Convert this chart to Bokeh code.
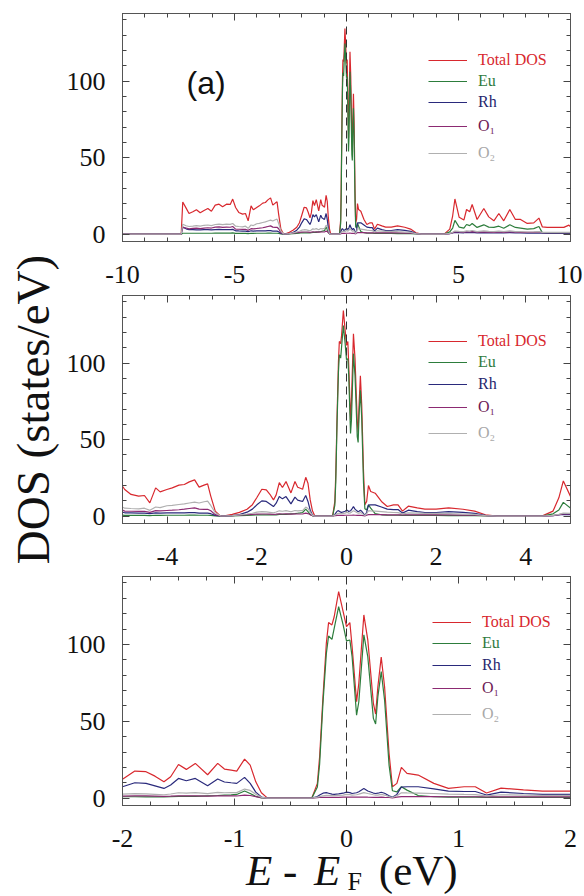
from bokeh.plotting import figure
from bokeh.models import (ColumnDataSource, Range1d, LinearAxis, FixedTicker, Span,
                          Label, Legend, LegendItem, Grid, Div)
from bokeh.layouts import column, row
from bokeh.embed import file_html
from bokeh.resources import INLINE

# ---------------- data ----------------
energy = [-10.00, -7.38, -7.31, -7.16, -7.03, -6.86, -6.70, -6.53, -6.36, -6.19, -6.03,
          -5.86, -5.69, -5.53, -5.36, -5.19, -5.08,
          -4.95, -4.81, -4.64, -4.51, -4.39, -4.26, -4.16, -4.01, -3.89, -3.74, -3.62,
          -3.51, -3.39, -3.29, -3.18, -3.10, -3.03, -2.93, -2.81,
          -2.72, -2.55, -2.39, -2.22, -2.10, -2.00, -1.89, -1.79, -1.71, -1.63, -1.57,
          -1.50, -1.43, -1.35, -1.24, -1.15, -1.09, -1.03, -0.98, -0.91, -0.86, -0.81,
          -0.76, -0.71, -0.31, -0.26, -0.24, -0.21, -0.18, -0.16, -0.13, -0.11, -0.07,
          -0.03, 0.00, 0.03, 0.05, 0.09, 0.11, 0.155, 0.19, 0.24, 0.26, 0.28, 0.31, 0.34,
          0.38, 0.41, 0.45, 0.49, 0.54, 0.64, 0.78, 0.91, 1.05, 1.15, 1.25, 1.38, 1.58,
          1.75, 2.00, 2.28, 2.60, 2.86, 3.10, 3.36, 4.36, 4.61, 4.74, 4.84, 5.03, 5.24,
          5.36, 5.50, 5.61, 5.83, 6.13, 6.35, 6.58, 6.80, 7.02, 7.29, 7.54, 7.77, 8.07,
          8.36, 8.59, 8.74, 8.96, 9.70, 9.93, 10.00]

total_dos = [0.0, 0.0, 21.0, 17.0, 13.5, 14.6, 16.0, 14.0, 15.5, 16.8, 15.0,
             19.0, 19.6, 17.9, 19.6, 19.4, 22.9,
             17.4, 14.2, 13.1, 13.5, 8.7, 18.5, 15.9, 17.4, 18.5, 20.3, 20.7,
             22.4, 23.7, 19.0, 20.3, 21.1, 13.1, 3.3, 0.0,
             0.2, 1.2, 2.5, 4.5, 7.5, 12.2, 17.6, 17.2, 14.3, 10.6, 13.9,
             21.9, 18.7, 22.6, 15.2, 22.6, 18.9, 18.2, 17.6, 25.4, 21.5, 10.6,
             3.5, 0.3, 0.0, 9.6, 26.9, 66.0, 100.8, 114.2, 112.7, 118.0, 134.4,
             121.4, 111.6, 114.2, 98.6, 62.8, 74.7, 119.2, 103.0, 61.7, 54.7, 72.5, 91.7, 72.5,
             29.1, 7.4, 9.6, 20.0, 16.1, 15.0, 9.6, 6.3, 7.4, 7.4, 3.3, 6.5, 5.4,
             4.6, 4.6, 5.4, 4.5, 3.3, 0.9, 0.0, 0.0, 3.3, 12.0, 23.0, 11.0, 9.2,
             16.1, 14.6, 19.4, 9.6, 16.8, 11.3, 8.7, 13.5, 8.7, 16.1, 9.6, 9.6, 7.0,
             7.4, 10.5, 4.8, 4.4, 4.4, 5.9, 4.8]

eu_dos = [0.0, 0.0, 0.6, 0.6, 0.6, 0.6, 0.6, 0.6, 0.6, 0.6, 0.6,
          0.7, 0.7, 0.7, 0.7, 0.7, 0.8,
          0.5, 0.5, 0.5, 0.5, 0.4, 0.6, 0.5, 0.6, 0.6, 0.6, 0.6,
          0.7, 0.7, 0.6, 0.6, 0.6, 0.5, 0.2, 0.0,
          0.0, 0.1, 0.3, 0.5, 0.6, 0.9, 0.9, 0.8, 0.8, 0.8, 0.9,
          1.1, 1.1, 1.2, 1.5, 1.7, 1.9, 2.1, 2.4, 4.6, 3.0, 1.1,
          0.2, 0.0, 0.0, 7.2, 22.0, 62.0, 94.0, 105.5, 103.3, 110.5, 124.6,
          112.7, 102.3, 102.9, 92.0, 54.0, 62.7, 106.2, 92.0, 51.9, 48.2, 66.0, 82.3, 63.8,
          21.5, 4.8, 4.1, 7.4, 5.2, 1.7, 0.9, 0.7, 0.6, 0.6, 0.5, 0.5, 0.5,
          0.5, 0.5, 0.4, 0.4, 0.3, 0.2, 0.0, 0.0, 1.5, 4.0, 9.0, 4.6, 3.9,
          6.3, 5.6, 7.0, 4.4, 6.1, 4.6, 4.4, 5.2, 3.9, 6.1, 4.4, 4.0, 3.3,
          3.6, 5.0, 1.0, 0.6, 0.6, 0.8, 0.6]

rh_dos = [0.0, 0.0, 4.6, 3.5, 3.0, 3.0, 2.8, 2.8, 2.9, 3.0, 2.8,
          3.0, 3.1, 2.9, 3.0, 3.0, 3.1,
          2.2, 2.1, 2.0, 2.0, 1.6, 2.2, 2.0, 2.1, 2.1, 2.2, 2.2,
          2.3, 2.3, 2.0, 2.0, 2.0, 1.6, 0.5, 0.1,
          0.1, 0.4, 1.0, 2.6, 4.6, 7.4, 10.0, 9.6, 8.0, 6.3, 8.5,
          12.8, 11.3, 12.8, 8.0, 12.4, 10.5, 10.0, 9.6, 13.5, 9.6, 3.9,
          0.7, 0.0, 0.0, 1.0, 2.0, 3.2, 3.6, 3.2, 2.6, 2.5, 2.8,
          3.2, 3.9, 3.6, 3.0, 3.5, 4.2, 6.2, 4.6, 3.3, 3.0, 3.2, 3.8, 3.2,
          1.6, 0.5, 2.4, 7.2, 7.4, 7.4, 6.0, 4.6, 4.3, 4.3, 2.0, 3.9, 3.0,
          2.4, 2.4, 3.0, 2.5, 1.8, 0.5, 0.0, 0.0, 0.3, 0.8, 1.2, 1.0, 0.9,
          1.1, 1.0, 1.1, 0.8, 1.0, 0.9, 0.8, 0.9, 0.8, 1.0, 0.8, 0.8, 0.7,
          0.7, 0.8, 0.6, 0.6, 0.6, 0.6, 0.6]

o1_dos = [0.0, 0.0, 4.5, 4.0, 3.5, 3.8, 4.0, 3.6, 4.0, 4.2, 4.0,
          4.6, 4.8, 4.4, 4.6, 4.5, 5.0,
          3.3, 3.2, 3.1, 3.2, 2.5, 3.6, 3.4, 3.7, 3.9, 4.2, 4.6,
          5.0, 5.4, 4.6, 4.4, 4.5, 3.5, 1.0, 0.1,
          0.1, 0.3, 0.7, 1.0, 1.2, 1.3, 1.4, 1.4, 1.3, 1.2, 1.3,
          1.5, 1.4, 1.5, 1.3, 1.5, 1.4, 1.4, 1.4, 2.0, 1.7, 1.0,
          0.3, 0.0, 0.0, 0.3, 0.4, 0.5, 0.5, 0.5, 0.5, 0.5, 0.5,
          0.6, 0.6, 0.6, 0.6, 0.6, 0.6, 0.7, 0.6, 0.5, 0.5, 0.5, 0.6, 0.5,
          0.4, 0.2, 0.6, 1.0, 1.0, 1.0, 1.0, 0.9, 0.9, 0.9, 0.8, 0.9, 0.8,
          0.8, 0.8, 0.8, 0.7, 0.6, 0.3, 0.0, 0.0, 0.4, 1.0, 1.5, 1.4, 1.3,
          1.5, 1.4, 1.6, 1.3, 1.5, 1.3, 1.2, 1.4, 1.2, 1.5, 1.3, 1.2, 1.1,
          1.1, 1.3, 1.0, 1.0, 1.0, 1.0, 1.0]

o2_dos = [0.0, 0.0, 6.5, 5.5, 5.0, 5.3, 5.6, 5.2, 5.8, 6.0, 5.6,
          6.3, 6.6, 6.2, 6.5, 6.4, 7.0,
          5.2, 5.0, 4.8, 5.2, 3.8, 6.0, 5.6, 6.8, 7.0, 7.6, 8.0,
          8.6, 9.2, 8.6, 9.4, 9.8, 7.0, 2.2, 0.1,
          0.1, 0.3, 0.8, 1.4, 1.9, 2.6, 2.9, 2.8, 2.5, 2.2, 2.7,
          3.5, 3.2, 3.6, 2.9, 3.7, 3.5, 3.6, 3.6, 5.9, 5.0, 2.6,
          0.5, 0.0, 0.0, 0.6, 1.0, 1.5, 1.8, 1.8, 1.6, 1.6, 1.8,
          2.0, 2.4, 2.3, 2.0, 2.2, 2.6, 3.6, 3.0, 2.2, 2.0, 2.0, 2.4, 2.0,
          1.0, 0.4, 1.6, 3.5, 3.4, 3.3, 3.0, 2.6, 2.4, 2.3, 1.5, 2.2, 2.0,
          1.8, 1.8, 1.6, 1.4, 1.2, 0.4, 0.0, 0.0, 0.5, 1.2, 2.0, 1.8, 1.7,
          2.2, 2.0, 2.4, 1.7, 2.2, 1.8, 1.6, 2.0, 1.6, 2.2, 1.7, 1.6, 1.4,
          1.5, 1.7, 1.2, 1.1, 1.1, 1.2, 1.1]

series_keys = ["total", "eu", "rh", "o1", "o2"]
series_names = ["Total DOS", "Eu", "Rh", "O\u2081", "O\u2082"]

panel_x_ranges = [(-10, 10), (-5, 5), (-2, 2)]
panel_major_ticks = [[-10, -5, 0, 5, 10], [-4, -2, 0, 2, 4], [-2, -1, 0, 1, 2]]
panel_minor_step = [1.0, 0.5, 0.25]
y_major_ticks = [0, 50, 100]
y_minor_ticks = [0, 10, 20, 30, 40, 50, 60, 70, 80, 90, 100, 110, 120, 130, 140]
y_limits = (-4.8, 144.2)

# ---------------- styles ----------------
line_colors = ["#d8282e", "#2d7d3c", "#2a2a7c", "#8c2a72", "#b0b0b0"]
text_colors = ["#d8282e", "#2f7a3e", "#26266e", "#6e1a56", "#a8a8a8"]
SERIF = "Liberation Serif"
FRAME_COLOR = "#555555"
INK = "#111111"

source = ColumnDataSource(dict(energy=energy, total=total_dos, eu=eu_dos,
                               rh=rh_dos, o1=o1_dos, o2=o2_dos))

TITLE_W = 60          # width of the strip holding the vertical title
PANEL_W = 522
fig_heights = [294, 282, 282]
border_tops = [13, 1, 0]
border_bottoms = [53, 53, 53]
XTITLE_H = 38
legend_rows = [[60, 81, 102, 126, 153],
               [341, 362, 384, 407, 433],
               [622, 643, 665, 688, 714]]
frame_bottoms = [241, 523, 805]
legend_x = [306, 306, 310]


def style_axis(ax, show_labels, standoff, majors):
    ax.axis_line_color = FRAME_COLOR
    ax.major_tick_line_color = "#444444"
    ax.minor_tick_line_color = "#444444"
    ax.major_tick_in = 7
    ax.major_tick_out = 0
    ax.minor_tick_in = 4
    ax.minor_tick_out = 0
    ax.major_label_text_font = SERIF
    ax.major_label_text_color = INK
    if show_labels:
        ax.major_label_text_font_size = "26px"
        ax.major_label_standoff = standoff
        ax.major_label_overrides = {t: str(t) for t in majors}
    else:
        ax.major_label_text_font_size = "0px"
        ax.major_label_standoff = 0
        ax.major_label_overrides = {t: "" for t in majors}


def hide_grids(fig):
    for obj in list(fig.center):
        if isinstance(obj, Grid):
            obj.visible = False


panels = []
for i in range(3):
    x0, x1 = panel_x_ranges[i]
    p = figure(width=PANEL_W, height=fig_heights[i],
               x_range=Range1d(x0, x1), y_range=Range1d(*y_limits),
               output_backend="svg", toolbar_location=None,
               x_axis_location=None, y_axis_location=None,
               min_border_left=122 - TITLE_W, min_border_right=12,
               min_border_top=border_tops[i], min_border_bottom=border_bottoms[i])
    p.outline_line_color = FRAME_COLOR
    p.background_fill_color = "white"
    p.border_fill_color = "white"
    hide_grids(p)

    step = panel_minor_step[i]
    n = int(round((x1 - x0) / step))
    x_minor = [x0 + k * step for k in range(n + 1)]
    majors = panel_major_ticks[i]

    for loc in ["below", "above"]:
        ax = LinearAxis(ticker=FixedTicker(ticks=majors, minor_ticks=x_minor))
        style_axis(ax, loc == "below", 24, majors)
        p.add_layout(ax, loc)
    for loc in ["left", "right"]:
        ax = LinearAxis(ticker=FixedTicker(ticks=y_major_ticks, minor_ticks=y_minor_ticks))
        style_axis(ax, loc == "left", 17, y_major_ticks)
        p.add_layout(ax, loc)

    renderers = []
    for key, col in zip(series_keys, line_colors):
        r = p.line("energy", key, source=source, line_color=col, line_width=1.2)
        renderers.append(r)

    p.add_layout(Span(location=0, dimension="height", line_color="#333333",
                      line_dash="8 5", line_width=1))

    for j in range(5):
        yc = legend_rows[i][j]
        leg = Legend(items=[LegendItem(label=series_names[j], renderers=[renderers[j]])],
                     location=(legend_x[i], frame_bottoms[i] - yc - 10),
                     padding=0, margin=0, spacing=0,
                     glyph_width=39, glyph_height=20, label_height=20, label_standoff=11,
                     label_text_font=SERIF, label_text_font_size="16px",
                     label_text_color=text_colors[j],
                     border_line_color=None, background_fill_alpha=0)
        p.add_layout(leg)

    panels.append(p)

# panel tag
panels[0].add_layout(Label(x=64, y=159, x_units="screen", y_units="screen", text="(a)",
                           text_font="Liberation Sans", text_font_size="32px",
                           text_baseline="middle", text_color=INK))

# strip on the left for the shared vertical title
total_h = sum(fig_heights) + XTITLE_H
ytitle = figure(width=TITLE_W, height=total_h, x_range=Range1d(0, 1), y_range=Range1d(0, 1),
                output_backend="svg", toolbar_location=None,
                x_axis_location=None, y_axis_location=None,
                min_border_left=0, min_border_right=0, min_border_top=0, min_border_bottom=0)
ytitle.outline_line_color = None
hide_grids(ytitle)
ytitle.add_layout(Label(x=32, y=total_h - 409, x_units="screen", y_units="screen",
                        text="DOS (states/eV)", angle=90, angle_units="deg",
                        text_align="center", text_baseline="middle",
                        text_font=SERIF, text_font_size="47px", text_color=INK))

# x title under the bottom panel: E - E_F (eV), as real HTML text
xtitle_html = (
    '<div style="font-family: \'Liberation Serif\'; font-size: 43px; line-height: 38px;'
    ' color: #111111; white-space: nowrap; padding-left: 186px; position: relative;'
    ' top: -6px;">'
    '<i>E</i> - <i style="margin-left: 6px;">E</i>'
    '<sub style="font-size: 26px; line-height: 0; vertical-align: -5px;'
    ' padding-left: 7px;">F</sub>'
    '<span style="margin-left: 17px;">(eV)</span></div>'
)
xtitle = Div(text=xtitle_html, width=PANEL_W, height=XTITLE_H,
             styles={"overflow": "visible", "margin": "0", "padding": "0"})

layout = row(ytitle, column(*panels, xtitle))
open("out.html", "w").write(file_html(layout, INLINE))
